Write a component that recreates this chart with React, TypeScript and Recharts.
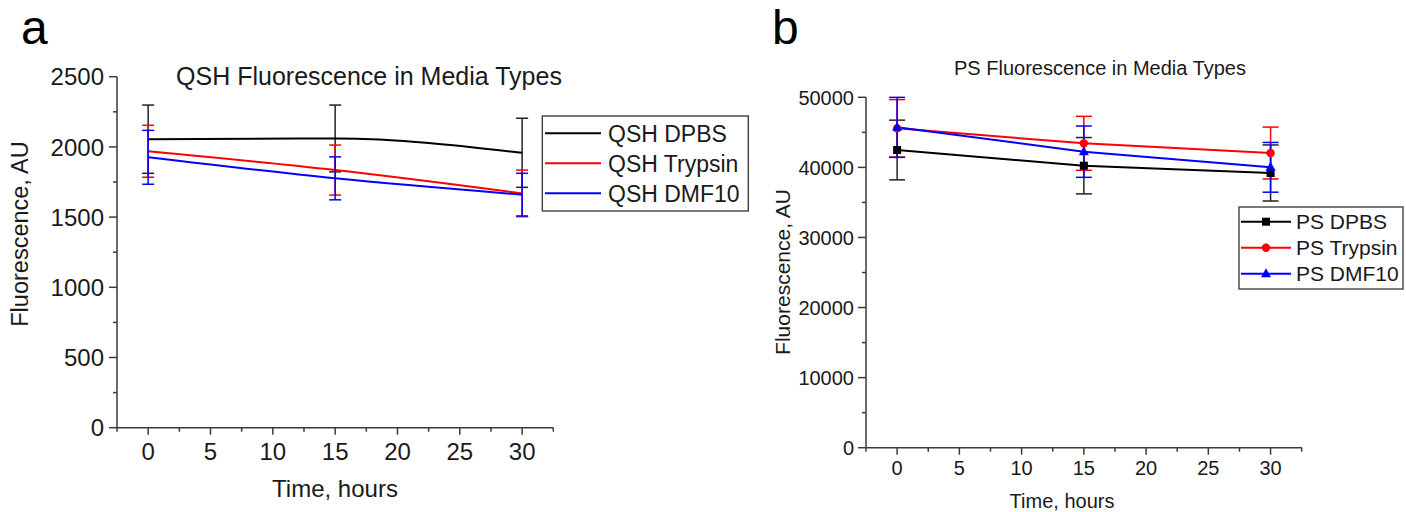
import { LineChart, Line, XAxis, YAxis, ErrorBar } from "recharts";

const FONT = "'Liberation Sans', Arial, sans-serif";
const AXIS = "#3a3a3a";

// sampling times
const hours = [0, 15, 30];
const xTicks = [-2.5, 0, 2.5, 5, 7.5, 10, 12.5, 15, 17.5, 20, 22.5, 25, 27.5, 30, 32.5];
const xMajor = [0, 5, 10, 15, 20, 25, 30];

// panel a: QSH
const qshTicks = [0, 250, 500, 750, 1000, 1250, 1500, 1750, 2000, 2250, 2500];
const qshMajor = [0, 500, 1000, 1500, 2000, 2500];
const qshDpbs = [2055, 2060, 1958];
const qshDpbsErr = [243, 238, 246];
const qshTrypsin = [1969, 1835, 1669];
const qshTrypsinErr = [185, 178, 166];
const qshDmf10 = [1926, 1776, 1660];
const qshDmf10Err = [192, 153, 152];

// panel b: PS
const psTicks = [0, 5000, 10000, 15000, 20000, 25000, 30000, 35000, 40000, 45000, 50000];
const psMajor = [0, 10000, 20000, 30000, 40000, 50000];
const psDpbs = [42480, 40240, 39200];
const psDpbsErr = [4260, 4020, 4000];
const psTrypsin = [45570, 43430, 42050];
const psTrypsinErr = [4100, 3850, 3700];
const psDmf10 = [45710, 42240, 40010];
const psDmf10Err = [4280, 3660, 3550];

const qshData = hours.map((t, i) => ({
  t,
  dpbs: qshDpbs[i],
  dpbsErr: qshDpbsErr[i],
  trypsin: qshTrypsin[i],
  trypsinErr: qshTrypsinErr[i],
  dmf10: qshDmf10[i],
  dmf10Err: qshDmf10Err[i],
}));

const psData = hours.map((t, i) => ({
  t,
  dpbs: psDpbs[i],
  dpbsErr: psDpbsErr[i],
  trypsin: psTrypsin[i],
  trypsinErr: psTrypsinErr[i],
  dmf10: psDmf10[i],
  dmf10Err: psDmf10Err[i],
}));

const makeXTick = (major: number[], labelDy: number, fontSize: number) => (props: any) => {
  const { x, y, payload } = props;
  const isMajor = major.includes(payload.value);
  return (
    <g>
      <line x1={x} x2={x} y1={y} y2={y + (isMajor ? 7 : 4)} stroke={AXIS} strokeWidth={1.5} />
      {isMajor && (
        <text x={x} y={y + labelDy} textAnchor="middle" fontSize={fontSize} fontFamily={FONT} fill="#1a1a1a">
          {payload.value}
        </text>
      )}
    </g>
  );
};

const makeYTick = (major: number[], gap: number, fontSize: number) => (props: any) => {
  const { x, y, payload } = props;
  const isMajor = major.includes(payload.value);
  return (
    <g>
      <line x1={x - (isMajor ? 8 : 4)} x2={x} y1={y} y2={y} stroke={AXIS} strokeWidth={1.5} />
      {isMajor && (
        <text x={x - gap} y={y} dy="0.36em" textAnchor="end" fontSize={fontSize} fontFamily={FONT} fill="#1a1a1a">
          {payload.value}
        </text>
      )}
    </g>
  );
};

const squareDot = (props: any) => {
  const { cx, cy, key } = props;
  return <rect key={key} x={cx - 4} y={cy - 4} width={8} height={8} fill="#000" />;
};
const circleDot = (props: any) => {
  const { cx, cy, key } = props;
  return <circle key={key} cx={cx} cy={cy} r={4.2} fill="#ff0000" />;
};
const triangleDot = (props: any) => {
  const { cx, cy, key } = props;
  return <path key={key} d={`M${cx},${cy - 5.5} L${cx + 5},${cy + 3.5} L${cx - 5},${cy + 3.5} Z`} fill="#0000ff" />;
};

function PanelA() {
  return (
    <LineChart width={760} height={512} data={qshData} margin={{ top: 76.7, right: 206.7, bottom: 54.3, left: 57 }}>
      <XAxis
        dataKey="t"
        type="number"
        domain={[-2.5, 32.5]}
        ticks={xTicks}
        interval={0}
        height={30}
        tickSize={0}
        tickMargin={0}
        tickLine={false}
        axisLine={{ stroke: AXIS, strokeWidth: 1.5 }}
        tick={makeXTick(xMajor, 32.3, 24)}
      />
      <YAxis
        type="number"
        domain={[0, 2500]}
        ticks={qshTicks}
        interval={0}
        width={60}
        tickSize={0}
        tickMargin={0}
        tickLine={false}
        axisLine={{ stroke: AXIS, strokeWidth: 1.5 }}
        tick={makeYTick(qshMajor, 13, 24)}
      />
      <Line type="monotone" dataKey="dpbs" stroke="#000" strokeWidth={2} dot={false} activeDot={false} isAnimationActive={false}>
        <ErrorBar dataKey="dpbsErr" width={6} stroke="#222" strokeWidth={1.5} direction="y" />
      </Line>
      <Line type="monotone" dataKey="trypsin" stroke="#ff0000" strokeWidth={2} dot={false} activeDot={false} isAnimationActive={false}>
        <ErrorBar dataKey="trypsinErr" width={6} stroke="#ff0000" strokeWidth={1.5} direction="y" />
      </Line>
      <Line type="monotone" dataKey="dmf10" stroke="#0000ff" strokeWidth={2} dot={false} activeDot={false} isAnimationActive={false}>
        <ErrorBar dataKey="dmf10Err" width={6} stroke="#0000ff" strokeWidth={1.5} direction="y" />
      </Line>
    </LineChart>
  );
}

function PanelB() {
  return (
    <LineChart width={646} height={512} data={psData} margin={{ top: 97.3, right: 104.3, bottom: 34.3, left: 46 }}>
      <XAxis
        dataKey="t"
        type="number"
        domain={[-2.5, 32.5]}
        ticks={xTicks}
        interval={0}
        height={30}
        tickSize={0}
        tickMargin={0}
        tickLine={false}
        axisLine={{ stroke: AXIS, strokeWidth: 1.5 }}
        tick={makeXTick(xMajor, 27.3, 20)}
      />
      <YAxis
        type="number"
        domain={[0, 50000]}
        ticks={psTicks}
        interval={0}
        width={60}
        tickSize={0}
        tickMargin={0}
        tickLine={false}
        axisLine={{ stroke: AXIS, strokeWidth: 1.5 }}
        tick={makeYTick(psMajor, 12, 20)}
      />
      <Line type="linear" dataKey="dpbs" stroke="#000" strokeWidth={2} dot={squareDot} activeDot={false} isAnimationActive={false}>
        <ErrorBar dataKey="dpbsErr" width={8} stroke="#222" strokeWidth={1.5} direction="y" />
      </Line>
      <Line type="linear" dataKey="trypsin" stroke="#ff0000" strokeWidth={2} dot={circleDot} activeDot={false} isAnimationActive={false}>
        <ErrorBar dataKey="trypsinErr" width={8} stroke="#ff0000" strokeWidth={1.5} direction="y" />
      </Line>
      <Line type="linear" dataKey="dmf10" stroke="#0000ff" strokeWidth={2} dot={triangleDot} activeDot={false} isAnimationActive={false}>
        <ErrorBar dataKey="dmf10Err" width={8} stroke="#0000ff" strokeWidth={1.5} direction="y" />
      </Line>
    </LineChart>
  );
}

const legendA = [
  { label: "QSH DPBS", color: "#000" },
  { label: "QSH Trypsin", color: "#ff0000" },
  { label: "QSH DMF10", color: "#0000ff" },
];
const legendB = [
  { label: "PS DPBS", color: "#000", shape: "square" },
  { label: "PS Trypsin", color: "#ff0000", shape: "circle" },
  { label: "PS DMF10", color: "#0000ff", shape: "triangle" },
];

function Overlay() {
  return (
    <svg width={1406} height={512} style={{ position: "absolute", left: 0, top: 0, pointerEvents: "none" }} fontFamily={FONT}>
      <text x={21} y={44} fontSize={48} fill="#000">a</text>
      <text x={772} y={44} fontSize={48} fill="#000">b</text>

      <text x={369} y={85} fontSize={25} textAnchor="middle" fill="#1a1a1a">QSH Fluorescence in Media Types</text>
      <text x={1100} y={75} fontSize={20} textAnchor="middle" fill="#1a1a1a">PS Fluorescence in Media Types</text>

      <text x={335} y={497} fontSize={24} textAnchor="middle" fill="#1a1a1a">Time, hours</text>
      <text x={1062} y={508} fontSize={20} textAnchor="middle" fill="#1a1a1a">Time, hours</text>

      <text transform="translate(28,234) rotate(-90)" fontSize={23.5} textAnchor="middle" fill="#1a1a1a">Fluorescence, AU</text>
      <text transform="translate(790,272) rotate(-90)" fontSize={21} textAnchor="middle" fill="#1a1a1a">Fluorescence, AU</text>

      <rect x={542.3} y={116} width={206} height={95} fill="#fff" stroke="#333" strokeWidth={1.3} />
      {legendA.map((d, i) => {
        const cy = 133.3 + i * 30;
        return (
          <g key={d.label}>
            <line x1={545} x2={601} y1={cy} y2={cy} stroke={d.color} strokeWidth={2} />
            <text x={608} y={cy + 8.5} fontSize={23} fill="#1a1a1a">{d.label}</text>
          </g>
        );
      })}

      <rect x={1239} y={207} width={164} height={82} fill="#fff" stroke="#333" strokeWidth={1.3} />
      {legendB.map((d, i) => {
        const cy = 221.7 + i * 26;
        return (
          <g key={d.label}>
            <line x1={1241} x2={1291} y1={cy} y2={cy} stroke={d.color} strokeWidth={2} />
            {d.shape === "square" && <rect x={1262} y={cy - 4} width={8} height={8} fill={d.color} />}
            {d.shape === "circle" && <circle cx={1266} cy={cy} r={4.2} fill={d.color} />}
            {d.shape === "triangle" && <path d={`M1266,${cy - 5.5} L1271,${cy + 3.5} L1261,${cy + 3.5} Z`} fill={d.color} />}
            <text x={1296} y={cy + 7.5} fontSize={21} fill="#1a1a1a">{d.label}</text>
          </g>
        );
      })}
    </svg>
  );
}

export default function App() {
  return (
    <div style={{ position: "absolute", left: 0, top: 0, width: 1406, height: 512, background: "#fff", fontFamily: FONT }}>
      <div style={{ position: "absolute", left: 0, top: 0 }}>
        <PanelA />
      </div>
      <div style={{ position: "absolute", left: 760, top: 0 }}>
        <PanelB />
      </div>
      <Overlay />
    </div>
  );
}
